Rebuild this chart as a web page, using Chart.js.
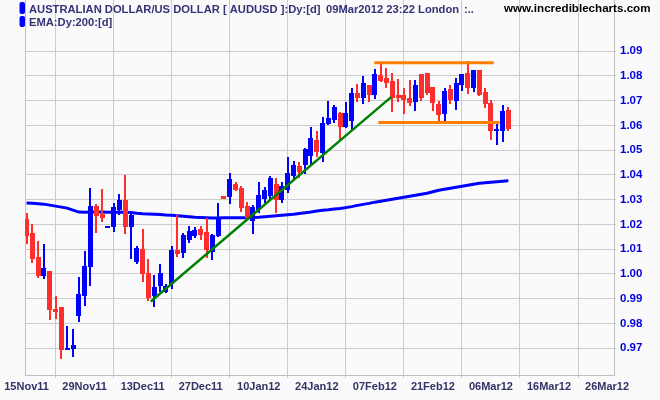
<!DOCTYPE html>
<html>
<head>
<meta charset="utf-8">
<script src="https://cdn.jsdelivr.net/npm/chart.js@4.4.1/dist/chart.umd.min.js"></script>
<style>
  html, body { margin: 0; padding: 0; background: #fafafa; }
  #wrap { width: 660px; height: 400px; }
</style>
</head>
<body>
<div id="wrap"><canvas id="chart" width="660" height="400"></canvas></div>
<script>
// daily AUDUSD candles, 15Nov11 .. 09Mar12 (one slot per trading day)
const opens = [
  1.0224, 1.0166, 1.0067, 0.9992, 1.0011, 0.9859, 0.9867, 0.9695, 0.9697, 0.9831,
  0.9910, 1.0028, 1.0274, 1.0244, 1.0185, 1.0190, 1.0258, 1.0298, 1.0190, 1.0049,
  1.0100, 1.0003, 0.9910, 0.9951, 0.9926, 0.9959, 1.0096, 1.0084, 1.0136, 1.0153,
  1.0181, 1.0169, 1.0088, 1.0153, 1.0314, 1.0310, 1.0363, 1.0346, 1.0274, 1.0213,
  1.0258, 1.0302, 1.0314, 1.0363, 1.0298, 1.0338, 1.0395, 1.0435, 1.0439, 1.0476,
  1.0540, 1.0488, 1.0605, 1.0621, 1.0649, 1.0593, 1.0617, 1.0730, 1.0710, 1.0763,
  1.0722, 1.0803, 1.0791, 1.0779, 1.0722, 1.0722, 1.0712, 1.0696, 1.0807, 1.0811,
  1.0755, 1.0686, 1.0645, 1.0746, 1.0698, 1.0763, 1.0811, 1.0751, 1.0823, 1.0734,
  1.0690, 1.0577, 1.0577, 1.0662
];
const highs = [
  1.0247, 1.0201, 1.0132, 1.0123, 1.0011, 0.9910, 0.9867, 0.9789, 0.9778, 0.9988,
  1.0093, 1.0346, 1.0282, 1.0342, 1.0193, 1.0287, 1.0321, 1.0399, 1.0251, 1.0112,
  1.0181, 1.0060, 0.9995, 1.0039, 0.9959, 1.0112, 1.0237, 1.0165, 1.0193, 1.0189,
  1.0193, 1.0225, 1.0161, 1.0286, 1.0314, 1.0407, 1.0371, 1.0355, 1.0290, 1.0278,
  1.0371, 1.0351, 1.0395, 1.0387, 1.0371, 1.0472, 1.0456, 1.0452, 1.0508, 1.0593,
  1.0577, 1.0633, 1.0698, 1.0682, 1.0654, 1.0694, 1.0751, 1.0767, 1.0799, 1.0763,
  1.0827, 1.0847, 1.0831, 1.0811, 1.0787, 1.0751, 1.0783, 1.0783, 1.0807, 1.0811,
  1.0755, 1.0698, 1.0751, 1.0763, 1.0791, 1.0807, 1.0860, 1.0823, 1.0823, 1.0751,
  1.0702, 1.0613, 1.0682, 1.0674
];
const lows = [
  1.0123, 1.0045, 0.9982, 0.9978, 0.9816, 0.9818, 0.9657, 0.9692, 0.9665, 0.9806,
  0.9871, 0.9951, 1.0166, 1.0210, 1.0185, 1.0170, 1.0240, 1.0161, 1.0060, 1.0039,
  0.9967, 0.9890, 0.9866, 0.9926, 0.9922, 0.9938, 1.0068, 1.0064, 1.0124, 1.0144,
  1.0136, 1.0064, 1.0056, 1.0148, 1.0304, 1.0282, 1.0334, 1.0249, 1.0217, 1.0161,
  1.0245, 1.0286, 1.0298, 1.0245, 1.0286, 1.0326, 1.0383, 1.0387, 1.0403, 1.0439,
  1.0472, 1.0451, 1.0601, 1.0609, 1.0540, 1.0589, 1.0581, 1.0694, 1.0686, 1.0694,
  1.0706, 1.0775, 1.0751, 1.0654, 1.0694, 1.0645, 1.0678, 1.0658, 1.0698, 1.0722,
  1.0658, 1.0617, 1.0609, 1.0686, 1.0662, 1.0738, 1.0726, 1.0734, 1.0718, 1.0670,
  1.0540, 1.0520, 1.0532, 1.0577
];
const closes = [
  1.0154, 1.0060, 0.9991, 1.0025, 0.9856, 0.9847, 0.9695, 0.9703, 0.9712, 0.9918,
  1.0031, 1.0274, 1.0233, 1.0228, 1.0193, 1.0271, 1.0298, 1.0190, 1.0237, 1.0103,
  0.9999, 0.9902, 0.9946, 1.0003, 0.9951, 1.0096, 1.0080, 1.0157, 1.0173, 1.0177,
  1.0157, 1.0096, 1.0157, 1.0225, 1.0304, 1.0383, 1.0338, 1.0266, 1.0225, 1.0270,
  1.0318, 1.0338, 1.0387, 1.0298, 1.0355, 1.0407, 1.0439, 1.0411, 1.0504, 1.0548,
  1.0492, 1.0609, 1.0629, 1.0674, 1.0593, 1.0649, 1.0730, 1.0710, 1.0771, 1.0722,
  1.0807, 1.0779, 1.0771, 1.0710, 1.0712, 1.0702, 1.0690, 1.0763, 1.0710, 1.0730,
  1.0690, 1.0641, 1.0738, 1.0702, 1.0771, 1.0807, 1.0751, 1.0823, 1.0722, 1.0686,
  1.0577, 1.0585, 1.0658, 1.0585
];
const ema200 = [
  1.0287, 1.0286, 1.0284, 1.0282, 1.0278, 1.0274, 1.0270, 1.0266, 1.0258, 1.0250,
  1.0249, 1.0250, 1.0250, 1.0250, 1.0249, 1.0249, 1.0249, 1.0249, 1.0248, 1.0245,
  1.0243, 1.0242, 1.0241, 1.0240, 1.0238, 1.0237, 1.0235, 1.0233, 1.0231, 1.0229,
  1.0228, 1.0227, 1.0226, 1.0226, 1.0227, 1.0227, 1.0227, 1.0227, 1.0227, 1.0228,
  1.0229, 1.0231, 1.0233, 1.0235, 1.0237, 1.0239, 1.0241, 1.0244, 1.0247, 1.0250,
  1.0254, 1.0257, 1.0259, 1.0262, 1.0264, 1.0268, 1.0272, 1.0277, 1.0281, 1.0285,
  1.0290, 1.0294, 1.0298, 1.0302, 1.0306, 1.0310, 1.0314, 1.0318, 1.0322, 1.0326,
  1.0332, 1.0338, 1.0342, 1.0346, 1.0350, 1.0354, 1.0358, 1.0362, 1.0366, 1.0368,
  1.0370, 1.0372, 1.0374, 1.0376
];

// trend lines: [slot, price] end points
const greenTrend = [[21.4, 0.9889], [62.8, 1.0714]];
const orangeTop = [[59.9, 1.0853], [80.5, 1.0853]];
const orangeBottom = [[60.6, 1.0612], [81.5, 1.0612]];

const xTickPos = [0, 10, 20, 30, 40, 50, 60, 70, 80, 90, 100];
const xTickLabels = ['15Nov11', '29Nov11', '13Dec11', '27Dec11', '10Jan12', '24Jan12',
  '07Feb12', '21Feb12', '06Mar12', '16Mar12', '26Mar12'];
const yTicks = [0.97, 0.98, 0.99, 1.00, 1.01, 1.02, 1.03, 1.04, 1.05, 1.06, 1.07, 1.08, 1.09];

const UP = '#0000ff';
const DOWN = '#ff2e2e';
const candleColors = closes.map((c, i) => c >= opens[i] ? UP : DOWN);

const bodies = opens.map((o, i) => ({ x: i, y: [o, closes[i]] }));
const wicks = lows.map((l, i) => ({ x: i, y: [l, highs[i]] }));
const toPts = arr => arr.map(p => ({ x: p[0], y: p[1] }));

// snap candle rectangles to whole pixels so they stay crisp like the original
const crispBars = {
    id: 'crispBars',
    afterDatasetsUpdate(chart) {
        chart.data.datasets.forEach((ds, di) => {
            const meta = chart.getDatasetMeta(di);
            if (meta.type !== 'bar') return;
            const odd = ds.barThickness % 2 === 1;
            meta.data.forEach(el => {
                el.x = odd ? Math.floor(el.x) + 0.5 : Math.round(el.x);
                el.y = Math.round(el.y);
                el.base = Math.round(el.base);
            });
        });
    }
};

const header = {
    id: 'header',
    afterDraw(chart) {
        const ctx = chart.ctx;
        ctx.save();
        ctx.fillStyle = '#0000ff';
        [[2, 12], [16, 11]].forEach(([top, h]) => {
            ctx.beginPath();
            ctx.roundRect(19.5, top, 5.5, h, 2);
            ctx.fill();
        });
        ctx.font = 'bold 11.2px "Liberation Sans", Arial, sans-serif';
        ctx.textBaseline = 'alphabetic';
        ctx.fillStyle = '#333377';
        ctx.fillText('AUSTRALIAN DOLLAR/US DOLLAR [ AUDUSD ]:Dy:[d]', 29, 13);
        ctx.fillText('09Mar2012 23:22 London', 326, 13);
        ctx.fillText(':..', 464, 13);
        ctx.fillText('EMA:Dy:200:[d]', 29, 26);
        ctx.font = 'bold 11.6px "Liberation Sans", Arial, sans-serif';
        ctx.fillStyle = '#000000';
        ctx.fillText('www.incrediblecharts.com', 504, 12);
        ctx.restore();
    }
};

new Chart(document.getElementById('chart'), {
    type: 'bar',
    data: {
        datasets: [
            { type: 'line', data: toPts(greenTrend), borderColor: '#008000', borderWidth: 2.5, pointRadius: 0, order: 0 },
            { type: 'line', data: toPts(orangeTop), borderColor: '#ff8000', borderWidth: 3, pointRadius: 0, order: 0 },
            { type: 'line', data: toPts(orangeBottom), borderColor: '#ff8000', borderWidth: 3, pointRadius: 0, order: 0 },
            { data: bodies, backgroundColor: candleColors, borderWidth: 0, barThickness: 5, grouped: false, minBarLength: 1, inflateAmount: 0, order: 1 },
            { data: wicks, backgroundColor: candleColors, borderWidth: 0, barThickness: 2, grouped: false, inflateAmount: 0, order: 2 },
            { type: 'line', data: ema200.map((v, i) => ({ x: i, y: v })), borderColor: '#0000ff', borderWidth: 3, pointRadius: 0, tension: 0, order: 3 }
        ]
    },
    options: {
        responsive: false,
        animation: false,
        events: [],
        layout: { padding: 0 },
        plugins: { legend: { display: false }, tooltip: { enabled: false } },
        scales: {
            x: {
                type: 'linear',
                position: 'bottom',
                min: -0.27,
                max: 101.2,
                offset: false,
                afterBuildTicks: s => { s.ticks = xTickPos.map(v => ({ value: v })); },
                afterFit: s => { s.height = 25; s.paddingLeft = 0; s.paddingRight = 0; },
                grid: { color: '#cccccc', tickLength: 3, drawTicks: true },
                border: { display: true, color: '#c0c0c0' },
                ticks: {
                    autoSkip: false,
                    maxRotation: 0,
                    padding: 2,
                    color: '#333366',
                    font: { family: '"Liberation Sans", Arial, sans-serif', size: 11, weight: 'bold' },
                    callback: (v, i) => xTickLabels[i]
                }
            },
            y: {
                type: 'linear',
                position: 'right',
                min: 0.95923,
                max: 1.1106,
                afterBuildTicks: s => { s.ticks = yTicks.map(v => ({ value: v })); },
                afterFit: s => { s.width = 46; s.paddingTop = 0; s.paddingBottom = 0; },
                grid: { color: '#cccccc', tickLength: 2 },
                border: { display: true, color: '#c0c0c0' },
                ticks: {
                    padding: 4,
                    color: '#0000e0',
                    font: { family: '"Liberation Sans", Arial, sans-serif', size: 11.5, weight: 'bold' },
                    callback: v => v.toFixed(2)
                }
            },
            frame: {
                type: 'linear',
                position: 'left',
                afterFit: s => { s.width = 25; s.paddingTop = 0; s.paddingBottom = 0; },
                grid: { display: false },
                border: { display: true, color: '#c0c0c0' },
                ticks: { display: false }
            }
        }
    },
    plugins: [crispBars, header]
});
</script>
</body>
</html>
